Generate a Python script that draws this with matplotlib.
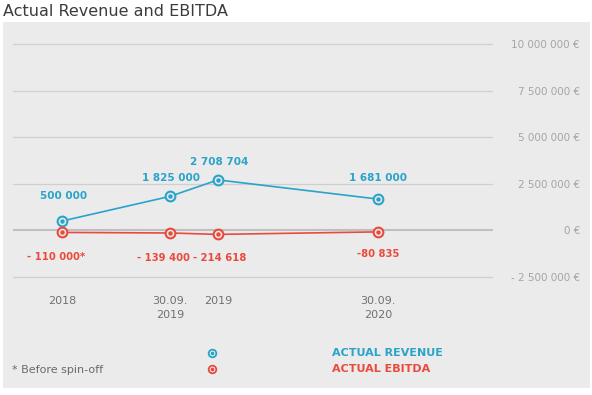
import matplotlib.pyplot as plt
from matplotlib.patches import Rectangle
from matplotlib.lines import Line2D

# data
periods = ['2018', '30.09.\n2019', '2019', '30.09.\n2020']
x_pos = [1.02, 3.27, 4.27, 7.60]
revenue = [500000, 1825000, 2708704, 1681000]
ebitda = [-110000, -139400, -214618, -80835]
revenue_labels = ['500 000', '1 825 000', '2 708 704', '1 681 000']
ebitda_labels = ['- 110 000*', '- 139 400', '- 214 618', '-80 835']
yticks = [-2500000, 0, 2500000, 5000000, 7500000, 10000000]
ytick_labels = ['- 2 500 000 €', '0 €', '2 500 000 €', '5 000 000 €', '7 500 000 €', '10 000 000 €']

BLUE = '#2aa3cb'
RED = '#ea4a3d'
BG = '#ebebeb'

plt.rcParams['font.family'] = ['DejaVu Sans']

fig = plt.figure(figsize=(5.92, 3.95), dpi=100)
fig.patch.set_facecolor('white')
# grey panel behind the chart
fig.add_artist(Rectangle((3 / 592, 1 - 388 / 395), 587 / 592, 366 / 395,
                         transform=fig.transFigure, facecolor=BG, edgecolor='none', zorder=0))
fig.text(3 / 592, 1 - 11 / 395, 'Actual Revenue and EBITDA', fontsize=11.5,
         color='#3c3c3c', va='center', ha='left')

ax = fig.add_axes([13 / 592, 0.2752, 480 / 592, 0.637])
ax.patch.set_alpha(0)
ax.set_xlim(0, 10)
ax.set_ylim(-3000000, 10500000)
for s in ax.spines.values():
    s.set_visible(False)

for v in yticks:
    if v == 0:
        ax.axhline(v, color='#bfbfbf', lw=1.5, zorder=1)
    else:
        ax.axhline(v, color='#cfcfcf', lw=0.9, zorder=1)

ax.yaxis.tick_right()
ax.set_yticks(yticks, ytick_labels)
ax.tick_params(axis='y', length=0, pad=62.6, labelsize=7.5, labelcolor='#a5a5a5')
for lab in ax.get_yticklabels():
    lab.set_ha('right')

ax.set_xticks(x_pos, periods)
ax.tick_params(axis='x', length=0, pad=7, labelsize=8, labelcolor='#707070')
for lab in ax.get_xticklabels():
    lab.set_linespacing(1.45)


def draw_series(vals, color):
    ax.plot(x_pos, vals, color=color, lw=1.2, zorder=3)
    ax.plot(x_pos, vals, ls='none', marker='o', ms=7, mfc=BG, mec=color, mew=1.5, zorder=4)
    ax.plot(x_pos, vals, ls='none', marker='o', ms=2.2, mfc=color, mec=color, zorder=5)


draw_series(revenue, BLUE)
draw_series(ebitda, RED)

rev_off = [(1, 18), (1, 13), (1, 13), (0, 15)]
for x, v, t, off in zip(x_pos, revenue, revenue_labels, rev_off):
    ax.annotate(t, (x, v), xytext=off, textcoords='offset points', ha='center', va='center',
                fontsize=7.5, fontweight='bold', color=BLUE)
ebi_off = [(-4, -18), (-5, -18), (1, -17), (0, -16)]
for x, v, t, off in zip(x_pos, ebitda, ebitda_labels, ebi_off):
    ax.annotate(t, (x, v), xytext=off, textcoords='offset points', ha='center', va='center',
                fontsize=7.2, fontweight='bold', color=RED)

# legend
for y, color, name in [(1 - 353 / 395, BLUE, 'ACTUAL REVENUE'), (1 - 369 / 395, RED, 'ACTUAL EBITDA')]:
    fig.add_artist(Line2D([212 / 592], [y], transform=fig.transFigure, ls='none', marker='o',
                          ms=5.5, mfc=BG, mec=color, mew=1.3))
    fig.add_artist(Line2D([212 / 592], [y], transform=fig.transFigure, ls='none', marker='o',
                          ms=1.6, mfc=color, mec=color))
    fig.text(332 / 592, y, name, fontsize=8, fontweight='bold', color=color, va='center', ha='left')

fig.text(12 / 592, 1 - 370 / 395, '* Before spin-off', fontsize=8, color='#6a6a6a', va='center', ha='left')

fig.savefig('out.png', dpi=100)
